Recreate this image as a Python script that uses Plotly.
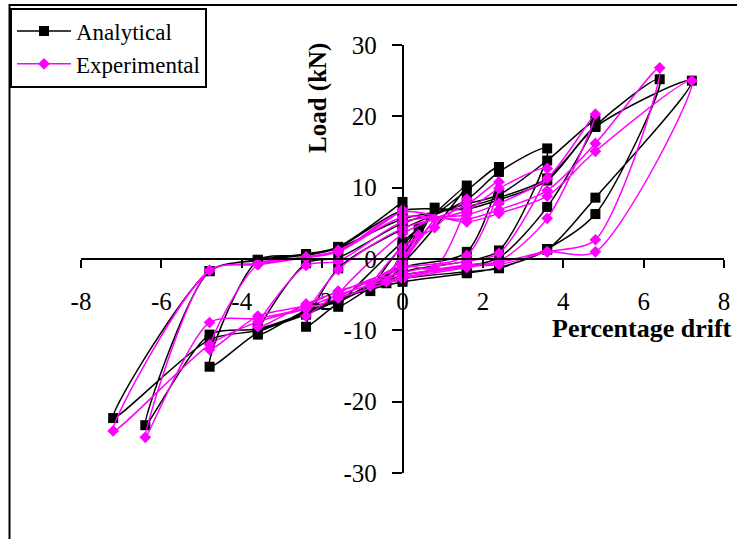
import plotly.graph_objects as go

# ---------------- data ----------------
analytical_drift = [0,
    0.4, 0, -0.4, 0,
    0.8, 0, -0.8, 0,
    1.6, 0, -1.6, 0,
    1.6, 2.4, 1.6, 0, -1.6, -2.4, -1.6, 0,
    1.6, 2.4, 3.6, 2.4, 1.6, 0, -1.6, -2.4, -3.6, -2.4, -1.6, 0,
    1.6, 2.4, 3.6, 4.8, 3.6, 2.4, 1.6, 0, -1.6, -2.4, -3.6, -4.8, -3.6, -2.4, -1.6, 0,
    1.6, 2.4, 3.6, 4.8, 6.4, 4.8, 3.6, 2.4, 1.6, 0, -1.6, -2.4, -3.6, -4.8, -6.4, -4.8, -3.6, -2.4, -1.6, 0,
    1.6, 2.4, 3.6, 4.8, 7.2, 4.8, 3.6, 2.4, 1.6, 0, -1.6, -2.4, -3.6, -4.8, -7.2, -4.8, -3.6, -2.4, -1.6, 0]
analytical_load = [0,
    4.3, 1.0, -3.4, -0.8,
    7.2, 0.3, -4.5, 1.9,
    10.3, -0.6, -6.7, 2.4,
    9.6, 12.9, 1.0, -1.2, -6.2, -9.5, -1.3, 4.2,
    8.3, 12.2, 15.5, 1.2, -0.3, -1.8, -6.0, -7.2, -10.6, -0.6, 0.2, 5.0,
    7.7, 9.0, 13.8, 19.4, 7.3, 0.2, -1.0, -2.3, -5.8, -7.8, -10.3, -15.1, -0.2, 0.5, 1.5, 5.6,
    7.3, 8.6, 11.3, 18.7, 25.2, 6.3, 1.4, -1.3, -1.8, -2.8, -5.5, -7.5, -9.8, -10.6, -23.3, -1.7, -0.2, 0.6, 1.6, 6.8,
    7.0, 8.3, 11.0, 18.5, 25.0, 8.6, 1.3, -1.2, -2.0, -3.2, -5.6, -7.6, -10.0, -11.3, -22.3, -1.7, -0.1, 0.7, 1.7, 8.0]

experimental_drift = [0,
    0.4, 0, -0.4, 0,
    0.8, 0, -0.8, 0,
    0.8, 1.6, 0.8, 0, -1.6, 0,
    1.6, 2.4, 1.6, 0, -1.6, -2.4, -1.6, 0,
    1.6, 2.4, 3.6, 2.4, 1.6, 0, -1.6, -2.4, -3.6, -2.4, -1.6, 0,
    1.6, 2.4, 3.6, 4.8, 3.6, 2.4, 1.6, 0, -1.6, -2.4, -3.6, -4.8, -3.6, -2.4, -1.6, 0,
    1.6, 2.4, 3.6, 4.8, 6.4, 4.8, 3.6, 2.4, 1.6, 0, -1.6, -2.4, -3.6, -4.8, -6.4, -4.8, -3.6, -2.4, -1.6, 0,
    1.6, 2.4, 3.6, 4.8, 7.2, 4.8, 3.6, 2.4, 1.6, 0, -1.6, -2.4, -3.6, -4.8, -7.2, -4.8, -3.6, -2.4, -1.6, 0]
experimental_load = [0,
    3.4, 0.8, -3.2, -0.5,
    5.6, 0.0, -3.8, 1.7,
    4.4, 8.4, -1.3, -0.9, -5.2, 3.5,
    7.6, 10.8, 0.5, -1.3, -4.8, -8.0, -1.5, 4.3,
    6.8, 9.9, 12.7, 0.8, -0.3, -1.9, -4.6, -6.3, -9.5, -0.9, -0.3, 5.2,
    6.2, 7.8, 11.3, 20.3, 5.7, -0.3, -0.8, -2.3, -4.5, -6.5, -8.0, -12.7, -0.8, 0.2, 1.0, 5.9,
    5.6, 6.9, 9.6, 16.2, 26.8, 2.7, 1.0, -0.8, -1.0, -2.6, -5.0, -6.8, -8.3, -8.9, -25.0, -1.6, -0.8, 0.2, 1.0, 6.6,
    5.2, 6.4, 8.8, 15.1, 25.0, 1.0, 1.0, -0.5, -1.2, -2.8, -5.5, -7.0, -8.8, -12.0, -24.1, -1.6, -0.6, 0.3, 1.2, 6.9]

x_tick_vals = [-8, -6, -4, -2, 0, 2, 4, 6, 8]
x_tick_text = ["-8", "-6", "-4", "-2", "0", "2", "4", "6", "8"]
y_tick_vals = [-30, -20, -10, 0, 10, 20, 30]
y_tick_text = ["-30", "-20", "-10", "0", "10", "20", "30"]

# ---------------- figure ----------------
W, H = 737, 539
L, R, T, B = 81, 13, 45, 66
pw, ph = W - L - R, H - T - B


def px_x(px):
    return (px - L) / pw


def px_y(py):
    return (H - B - py) / ph


FONT = "Liberation Serif"

fig = go.Figure()
fig.add_trace(go.Scatter(
    x=analytical_drift, y=analytical_load, name="Analytical",
    mode="lines+markers",
    line=dict(color="black", width=1.5, shape="spline", smoothing=0.8),
    marker=dict(symbol="square", size=10, color="black"),
))
fig.add_trace(go.Scatter(
    x=experimental_drift, y=experimental_load, name="Experimental",
    mode="lines+markers",
    line=dict(color="#FF00FF", width=1.5, shape="spline", smoothing=0.8),
    marker=dict(symbol="diamond", size=9, color="#FF00FF"),
))

axis_common = dict(
    showline=True, linecolor="black", linewidth=1.5,
    ticks="outside", tickcolor="black", tickwidth=1.5,
    showgrid=False, zeroline=False, anchor="free", position=0.5,
    tickfont=dict(family=FONT, size=25, color="black"),
)
fig.update_xaxes(range=[-8, 8], tickvals=x_tick_vals, ticktext=x_tick_text,
                 ticklen=8, ticklabelstandoff=12, **axis_common)
fig.update_yaxes(range=[-30, 30], tickvals=y_tick_vals, ticktext=y_tick_text,
                 ticklen=10, ticklabelstandoff=10, **axis_common)

fig.add_annotation(text="<b>Load (kN)</b>", textangle=-90, showarrow=False,
                   xref="paper", yref="paper", x=px_x(318), y=px_y(98),
                   xanchor="center", yanchor="middle",
                   font=dict(family=FONT, size=25, color="black"))
fig.add_annotation(text="<b>Percentage drift</b>", showarrow=False,
                   xref="paper", yref="paper", x=px_x(734), y=px_y(328),
                   xanchor="right", yanchor="middle",
                   font=dict(family=FONT, size=26, color="black"))

fig.add_shape(type="rect", xref="paper", yref="paper",
              x0=px_x(9.5), y0=px_y(560), x1=px_x(760), y1=px_y(5),
              line=dict(color="black", width=2), fillcolor="rgba(0,0,0,0)",
              layer="above")

fig.update_layout(
    width=W, height=H,
    margin=dict(l=L, r=R, t=T, b=B, autoexpand=False),
    paper_bgcolor="white", plot_bgcolor="white",
    font=dict(family=FONT, color="black"),
    showlegend=True,
    legend=dict(x=px_x(10), y=px_y(7.5), xanchor="left", yanchor="top",
                bordercolor="black", borderwidth=2, bgcolor="white",
                font=dict(family=FONT, size=23, color="black"),
                itemwidth=54, tracegroupgap=4),
)

fig.write_html("out.html",
               config={"displayModeBar": False},
               post_script="document.body.style.margin='0';document.body.style.padding='0';")
